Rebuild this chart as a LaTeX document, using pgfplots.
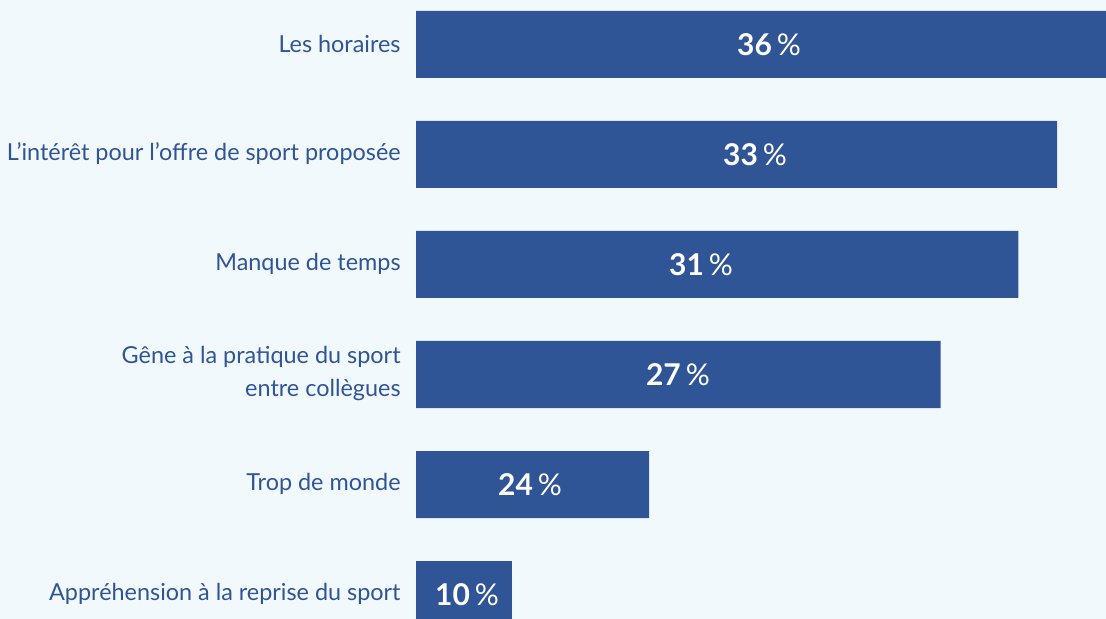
\documentclass[border=0pt]{standalone}
\usepackage{pgfplots}
\pgfplotsset{compat=1.18}
\usepackage{pgfplotstable}
\usepackage{fontspec}
\setmainfont{Lato}
\definecolor{barblue}{HTML}{2F5597}
\definecolor{labblue}{HTML}{2F5597}
\definecolor{bgc}{HTML}{F2F9FC}

% len = drawn bar length, lx = position of the value label, lab = printed value
\pgfplotstableread[col sep=comma]{
y,len,lx,lab
0,36,18.17,36
1,33,17.45,33
2,31,14.67,31
3,27,13.48,27
4,12,5.87,24
5,4.94,2.63,10
}\data

\begin{document}
\begin{tikzpicture}
\fill[bgc] (0,0) rectangle (553pt,309.5pt);
\begin{axis}[
  at={(208pt,0pt)}, anchor=south west,
  scale only axis, width=345pt, height=309.5pt,
  xmin=0, xmax=35.51, ymin=-0.4045, ymax=5.2227,
  y dir=reverse,
  axis line style={draw=none},
  xtick=\empty,
  ytick={0,1,2,3,4,5},
  yticklabels={Les horaires,
    L’intérêt pour l’offre de sport proposée,
    Manque de temps,
    Gêne à la pratique du sport\\entre collègues,
    Trop de monde,
    Appréhension à la reprise du sport},
  tick style={draw=none},
  major tick length=0pt,
  yticklabel style={align=right, anchor=east, inner sep=0pt, xshift=-7.5pt, yshift=0.5pt,
    text=labblue, font=\fontsize{11.7}{16.5}\selectfont},
]
\addplot[xbar, fill=barblue, draw=none, bar width=33.5pt]
  table[x=len, y=y] {\data};
\addplot[draw=none, mark=none,
  point meta=explicit symbolic,
  nodes near coords={\textbf{\pgfplotspointmeta}\,\%},
  every node near coord/.append style={anchor=center, text=white,
    font=\fontsize{15}{18}\selectfont, inner sep=0pt}]
  table[x=lx, y=y, meta=lab] {\data};
\end{axis}
\end{tikzpicture}
\end{document}
